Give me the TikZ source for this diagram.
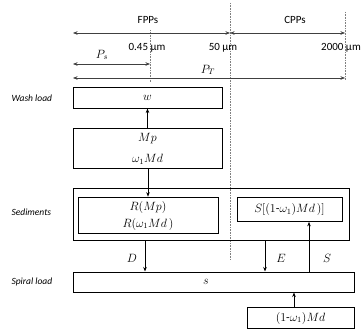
\documentclass[tikz,border=0pt]{standalone}
\usepackage{fontspec}
\setmainfont{Carlito}
\usetikzlibrary{arrows.meta}
\begin{document}
\begin{tikzpicture}[x=1pt,y=-1pt,
  box/.style={draw, line width=1pt, inner sep=0pt, align=center},
  inbox/.style={draw, line width=0.7pt, inner sep=0pt, align=center},
  side/.style={anchor=west, font=\fontsize{9.5}{11}\selectfont\itshape},
  top/.style={font=\fontsize{11}{13}\selectfont},
  mth/.style={font=\fontsize{12}{14}\selectfont},
  guide/.style={gray, densely dotted, line width=0.6pt},
  arr/.style={-{Stealth[length=4.5pt,width=3.5pt]}, line width=0.6pt},
  darr/.style={{Stealth[length=4.5pt,width=3.5pt]}-{Stealth[length=4.5pt,width=3.5pt]}, line width=0.5pt, draw=black!75}
]
\useasboundingbox (0,0) rectangle (364,329);
% guides
\coordinate (g1t) at (150,30); \coordinate (g1b) at (150,82);
\coordinate (g2t) at (230,3);  \coordinate (g2b) at (230,260);
\coordinate (g3t) at (345,12); \coordinate (g3b) at (345,80);
\draw[guide] (g1t) -- (g1b);
\draw[guide] (g2t) -- (g2b);
\draw[guide] (g3t) -- (g3b);
% top arrows
\coordinate (a1l) at (73,33); \coordinate (a1m) at (230,33); \coordinate (a1r) at (345,33);
\coordinate (a2l) at (73,64); \coordinate (a2r) at (150,64);
\coordinate (a3l) at (73,78); \coordinate (a3r) at (345,78);
\draw[darr] (a1l) -- (a1m);
\draw[darr] (a1m) -- (a1r);
\draw[darr] (a2l) -- (a2r);
\draw[darr] (a3l) -- (a3r);
\node[top] (fpp) at (148,20) {FPPs};
\node[top] (cpp) at (295,20) {CPPs};
\node[top] (t045) at (147,48) {0.45 µm};
\node[top] (t50) at (223,48) {50 µm};
\node[top] (t2000) at (341,48) {2000 µm};
\node[mth] (ps) at (102,55) {$P_s$};
\node[mth] (pt) at (208,70) {$P_T$};
% boxes
\node[box, minimum width=149pt, minimum height=21pt] (w) at (147.5,97.5) {};
\node[mth] at (w) {$w$};
\node[box, minimum width=149pt, minimum height=40pt] (mp) at (147.5,148) {};
\node[mth] (mp1) at (147.5,139) {$Mp$};
\node[mth] (mp2) at (147.5,159) {$\omega_1 Md$};
\node[box, minimum width=276pt, minimum height=52pt] (sed) at (211,214) {};
\node[inbox, minimum width=140pt, minimum height=36pt] (rb) at (148,215) {};
\node[mth] (r1) at (148,207) {$R(Mp)$};
\node[mth] (r2) at (148,224) {$R(\omega_1 Md\,)$};
\node[inbox, minimum width=105pt, minimum height=24pt] (sb) at (289.5,209.5) {};
\node[mth] at (sb) {$S[(1\mbox{-}\omega_1)Md\,)]$};
\node[box, minimum width=281pt, minimum height=20pt] (sp) at (213.5,282) {};
\node[mth] (sl) at (206,282) {$s$};
\node[box, minimum width=107pt, minimum height=21pt] (bt) at (300.5,318) {};
\node[mth] at (bt) {$(1\mbox{-}\omega_1)Md$};
% side labels
\node[side] (l1) at (8,98) {Wash load};
\node[side] (l2) at (8,212) {Sediments};
\node[side] (l3) at (8,282) {Spiral load};
% arrows
\coordinate (dx) at (145,0);
\coordinate (ex) at (265,0);
\coordinate (sx) at (309,0);
\coordinate (bx) at (294,0);
\draw[arr] (mp.north) -- (w.south);
\draw[arr] (mp.south -| rb.north) -- (rb.north);
\draw[arr] (sed.south -| dx) -- (sp.north -| dx);
\draw[arr] (sed.south -| ex) -- (sp.north -| ex);
\draw[arr] (sp.north -| sx) -- (sb.south -| sx);
\draw[arr] (bt.north -| bx) -- (sp.south -| bx);
\node[mth] (dl) at (132,258) {$D$};
\node[mth] (el) at (281,258) {$E$};
\node[mth] (sll) at (327,258) {$S$};
\end{tikzpicture}
\end{document}
